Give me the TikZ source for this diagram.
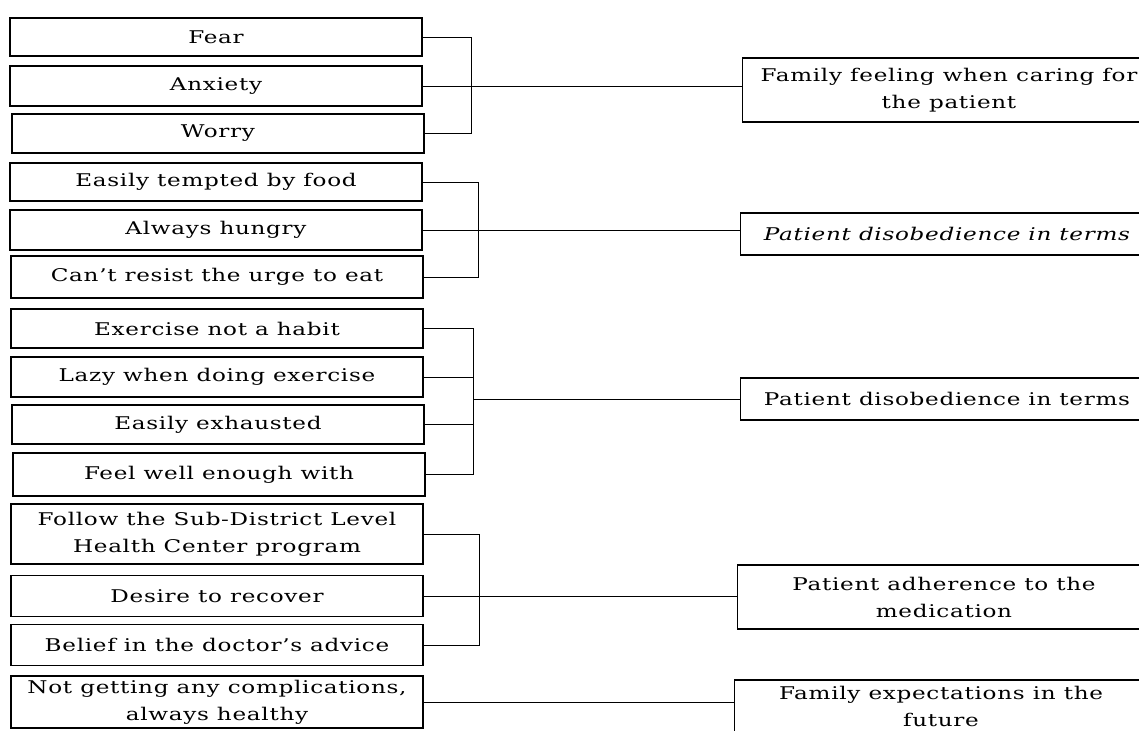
\documentclass[tikz,border=0pt]{standalone}
\usepackage{fontspec}
\setmainfont{DejaVu Serif}[FakeStretch=1.32,LetterSpace=4]
\begin{document}
\begin{tikzpicture}[x=1pt,y=-1pt,
  box/.style={draw=black,line width=1.2pt,fill=white,inner sep=0pt,align=center,
    font=\fontsize{17.5}{27}\selectfont},
  lbox/.style={box,minimum width=412pt},
  rbox/.style={box,minimum width=413pt},
  conn/.style={draw=black,line width=0.9pt}]
\clip (0,0) rectangle (1139,730);
\fill[white] (0,0) rectangle (1139,730);
% left boxes
\node[lbox,minimum height=38pt] (fear)   at (216,37)    {Fear};
\node[lbox,minimum height=40pt] (anx)    at (216,86)    {Anxiety};
\node[lbox,minimum height=39pt] (worry)  at (218,133.5) {Worry};
\node[lbox,minimum height=38pt] (tempt)  at (216,182)   {Easily tempted by food};
\node[lbox,minimum height=40pt] (hungry) at (216,230)   {Always hungry};
\node[lbox,minimum height=42pt] (resist) at (217,277)   {Can't resist the urge to eat};
\node[lbox,minimum height=39pt] (habit)  at (217,328.5) {Exercise not a habit};
\node[lbox,minimum height=40pt] (lazy)   at (217,377)   {Lazy when doing exercise};
\node[lbox,minimum height=39pt] (exh)    at (218,424.5) {Easily exhausted};
\node[lbox,minimum height=43pt] (feel)   at (219,474.5) {Feel well enough with};
\node[lbox,minimum height=60pt] (follow) at (217,534)   {Follow the Sub-District Level\\Health Center program};
\node[lbox,minimum height=41pt] (desire) at (217,596)   {Desire to recover};
\node[lbox,minimum height=41pt] (belief) at (217,645)   {Belief in the doctor's advice};
\node[lbox,minimum height=52pt] (notget) at (217,702)   {Not getting any complications,\\always healthy};
% right boxes
\node[rbox,minimum height=64pt] (r1) at (949,90)  {Family feeling when caring for\\the patient};
\node[rbox,minimum height=42pt] (r2) at (947,234) {\itshape Patient disobedience in terms};
\node[rbox,minimum height=42pt] (r3) at (947,399) {Patient disobedience in terms};
\node[rbox,minimum height=64pt] (r4) at (944,597) {Patient adherence to the\\medication};
\node[rbox,minimum height=52pt] (r5) at (941,706) {Family expectations in the\\future};
% bracket x positions
\coordinate (b1) at (471,0);
\coordinate (b2) at (478,0);
\coordinate (b3) at (473,0);
\coordinate (b4) at (479,0);
% group 1
\draw[conn] (fear.east) -- (fear.east -| b1) -- (worry.east -| b1) -- (worry.east);
\draw[conn] (anx.east) -- (anx.east -| r1.west);
% group 2
\draw[conn] (tempt.east) -- (tempt.east -| b2) -- (resist.east -| b2) -- (resist.east);
\draw[conn] (hungry.east) -- (hungry.east -| r2.west);
% group 3
\draw[conn] (habit.east) -- (habit.east -| b3) -- (feel.east -| b3) -- (feel.east);
\draw[conn] (lazy.east) -- (lazy.east -| b3);
\draw[conn] (exh.east) -- (exh.east -| b3);
\draw[conn] (b3 |- r3.west) -- (r3.west);
% group 4
\draw[conn] (follow.east) -- (follow.east -| b4) -- (belief.east -| b4) -- (belief.east);
\draw[conn] (desire.east) -- (desire.east -| r4.west);
% group 5
\draw[conn] (notget.east) -- (notget.east -| r5.west);
\end{tikzpicture}
\end{document}
